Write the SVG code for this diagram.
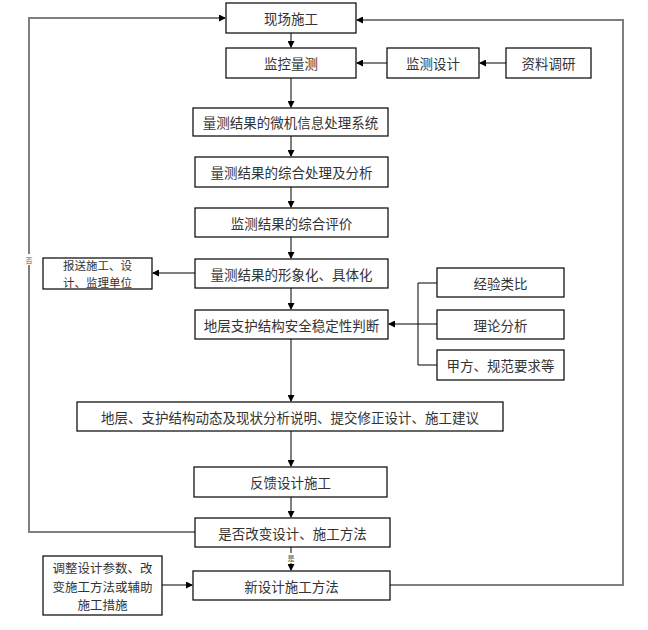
<svg xmlns="http://www.w3.org/2000/svg" width="648" height="630" viewBox="0 0 648 630">
<defs>
<marker id="ah" markerWidth="7" markerHeight="7" refX="6" refY="3.5" orient="auto" markerUnits="userSpaceOnUse">
<path d="M0,0 L7,3.5 L0,7 Z" fill="#000"/>
</marker>
<style>
.box{fill:#fff;stroke:#000;stroke-width:1.2}
.t{font-family:"Noto Sans CJK SC","Liberation Serif",serif;font-size:13.5px;fill:#333;text-anchor:middle;dominant-baseline:central}
.c{fill:none;stroke:#7f7f7f;stroke-width:2}
.b{fill:none;stroke:#000;stroke-width:1}
.lbl{font-family:"Noto Sans CJK SC","Liberation Serif",serif;font-size:7px;fill:#555;text-anchor:middle;dominant-baseline:central}
</style>
</defs>
<rect width="648" height="630" fill="#fff"/>
<g id="connectors">
<line class="c" x1="291" y1="33" x2="291" y2="47" marker-end="url(#ah)"/>
<line class="c" x1="291" y1="78" x2="291" y2="107" marker-end="url(#ah)"/>
<line class="c" x1="291" y1="136" x2="291" y2="156" marker-end="url(#ah)"/>
<line class="c" x1="291" y1="187" x2="291" y2="207" marker-end="url(#ah)"/>
<line class="c" x1="291" y1="237" x2="291" y2="258" marker-end="url(#ah)"/>
<line class="c" x1="291" y1="288" x2="291" y2="309" marker-end="url(#ah)"/>
<line class="c" x1="291" y1="339" x2="291" y2="401" marker-end="url(#ah)"/>
<line class="c" x1="291" y1="431" x2="291" y2="466" marker-end="url(#ah)"/>
<line class="c" x1="291" y1="497" x2="291" y2="517" marker-end="url(#ah)"/>
<line class="c" x1="291" y1="547" x2="291" y2="570" marker-end="url(#ah)"/>
<line class="c" x1="387" y1="63" x2="357" y2="63" marker-end="url(#ah)"/>
<line class="c" x1="506" y1="63" x2="480" y2="63" marker-end="url(#ah)"/>
<line class="c" x1="195" y1="273" x2="153" y2="273" marker-end="url(#ah)"/>
<line class="c" x1="162" y1="585" x2="192" y2="585" marker-end="url(#ah)"/>
<polyline class="c" points="195,532 29,532 29,18 225,18" marker-end="url(#ah)"/>
<polyline class="c" points="390,585 623,585 623,20 357,20" marker-end="url(#ah)"/>
<polyline class="b" points="437,283 418,283 418,365 437,365"/>
<line class="b" x1="437" y1="324" x2="418" y2="324"/>
<line class="b" x1="418" y1="324" x2="389" y2="324" marker-end="url(#ah)"/>
<rect x="24" y="254" width="10" height="11" fill="#fff"/>
<text class="lbl" x="29" y="259.5">否</text>
<rect x="286" y="553" width="10" height="10" fill="#fff"/>
<text class="lbl" x="291" y="558">是</text>
</g>
<g id="n1"><rect class="box" x="226" y="3" width="130" height="30"/><text class="t" x="291" y="18">现场施工</text></g>
<g id="n2"><rect class="box" x="226" y="48" width="130" height="30"/><text class="t" x="291" y="63">监控量测</text></g>
<g id="n3"><rect class="box" x="387" y="48" width="92" height="30"/><text class="t" x="433" y="63">监测设计</text></g>
<g id="n4"><rect class="box" x="506" y="48" width="85" height="30"/><text class="t" x="548.5" y="63">资料调研</text></g>
<g id="n5"><rect class="box" x="193" y="108" width="195" height="28"/><text class="t" x="290.5" y="122">量测结果的微机信息处理系统</text></g>
<g id="n6"><rect class="box" x="195" y="157" width="193" height="30"/><text class="t" x="291.5" y="172">量测结果的综合处理及分析</text></g>
<g id="n7"><rect class="box" x="195" y="208" width="193" height="29"/><text class="t" x="291.5" y="222.5">监测结果的综合评价</text></g>
<g id="n8"><rect class="box" x="195" y="259" width="193" height="29"/><text class="t" x="291.5" y="273.5">量测结果的形象化、具体化</text></g>
<g id="n9"><rect class="box" x="43" y="258" width="109" height="31"/><text class="t" style="font-size:11.5px"><tspan x="97.5" y="265.1">报送施工、设</tspan><tspan x="97.5" y="281.9">计、监理单位</tspan></text></g>
<g id="n10"><rect class="box" x="195" y="310" width="193" height="29"/><text class="t" x="291.5" y="324.5">地层支护结构安全稳定性判断</text></g>
<g id="n11"><rect class="box" x="437" y="268" width="127" height="29"/><text class="t" x="500.5" y="282.5">经验类比</text></g>
<g id="n12"><rect class="box" x="437" y="310" width="127" height="29"/><text class="t" x="500.5" y="324.5">理论分析</text></g>
<g id="n13"><rect class="box" x="437" y="350" width="127" height="30"/><text class="t" x="500.5" y="365">甲方、规范要求等</text></g>
<g id="n14"><rect class="box" x="77" y="402" width="426" height="29"/><text class="t" x="290" y="416.5">地层、支护结构动态及现状分析说明、提交修正设计、施工建议</text></g>
<g id="n15"><rect class="box" x="194" y="467" width="193" height="30"/><text class="t" x="290.5" y="482">反馈设计施工</text></g>
<g id="n16"><rect class="box" x="195" y="518" width="195" height="29"/><text class="t" x="292.5" y="532.5">是否改变设计、施工方法</text></g>
<g id="n17"><rect class="box" x="193" y="571" width="197" height="29"/><text class="t" x="291.5" y="585.5">新设计施工方法</text></g>
<g id="n18"><rect class="box" x="43" y="556" width="119" height="59"/><text class="t" style="font-size:12.5px"><tspan x="102.5" y="567.3">调整设计参数、改</tspan><tspan x="102.5" y="585.5">变施工方法或辅助</tspan><tspan x="102.5" y="603.7">施工措施</tspan></text></g>
</svg>
